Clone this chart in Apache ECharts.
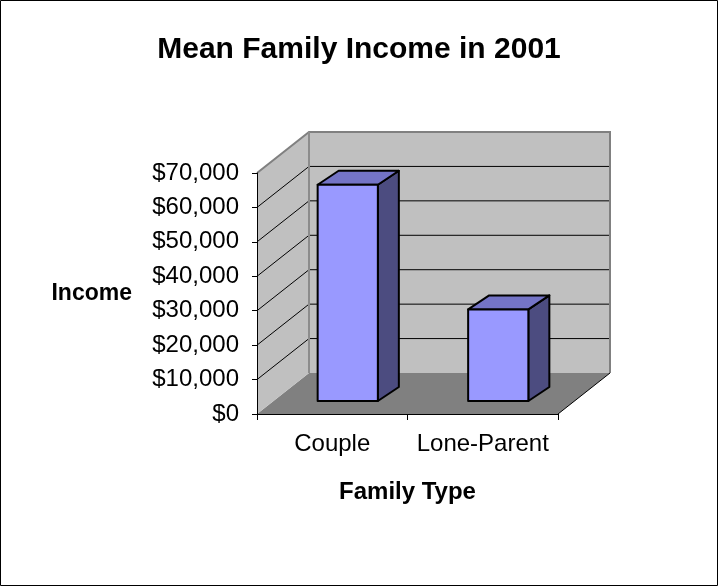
<!DOCTYPE html>
<html>
<head>
<meta charset="utf-8">
<title>Mean Family Income in 2001</title>
<script src="https://cdn.jsdelivr.net/npm/echarts@6/dist/echarts.min.js"></script>
<style>
  html, body { margin: 0; padding: 0; background: #fff; }
  #chart { width: 718px; height: 586px; }
</style>
</head>
<body>
<div id="chart"></div>
<script>
// Family types along the horizontal axis
const categories = ['Couple', 'Lone-Parent'];
// Mean family income per type (dollars)
const incomes = [62800, 26600];
// Income axis tick values
const incomeTicks = [0, 10000, 20000, 30000, 40000, 50000, 60000, 70000];

// Pseudo-3D projection offsets (pixels)
const WALL_DEPTH = [52, -41];   // floor / walls depth vector
const BAR_FRONT = [15.5, -13];  // bar front face offset into the box
const BAR_DEPTH = [21, -14];    // bar thickness vector
const BAR_RATIO = 0.4;          // bar width relative to category band

const FONT = '"Liberation Sans", Arial, sans-serif';

const chart = echarts.init(document.getElementById('chart'), null, { renderer: 'canvas' });

function money(v) {
  return '$' + Math.round(v).toLocaleString('en-US');
}

// Walls, floor and wall gridlines, positioned through the axes
function renderFrame(params, api) {
  const band = api.size([1, 0])[0];
  const x0 = api.coord([0, 0])[0] - band / 2;
  const x1 = api.coord([categories.length - 1, 0])[0] + band / 2;
  const yOf = v => api.coord([0, v])[1];
  const y0 = yOf(incomeTicks[0]);
  const yT = yOf(incomeTicks[incomeTicks.length - 1]);
  const dx = WALL_DEPTH[0], dy = WALL_DEPTH[1];
  const children = [];

  // floor
  children.push({
    type: 'polygon',
    shape: { points: [[x0, y0], [x1, y0], [x1 + dx, y0 + dy], [x0 + dx, y0 + dy]] },
    style: { fill: '#808080', stroke: null }
  });
  // side wall
  children.push({
    type: 'polygon',
    shape: { points: [[x0, y0], [x0 + dx, y0 + dy], [x0 + dx, yT + dy], [x0, yT]] },
    style: { fill: '#C0C0C0', stroke: null }
  });
  // back wall
  children.push({
    type: 'rect',
    shape: { x: x0 + dx, y: yT + dy, width: x1 - x0, height: y0 - yT },
    style: { fill: '#C0C0C0', stroke: null }
  });
  // gridlines on side and back walls
  for (let i = 1; i < incomeTicks.length - 1; i++) {
    const y = yOf(incomeTicks[i]);
    children.push({
      type: 'polyline',
      shape: { points: [[x0, y], [x0 + dx, y + dy], [x1 + dx, y + dy]] },
      style: { stroke: '#000', lineWidth: 1, fill: null }
    });
  }
  // wall edges
  children.push({
    type: 'polyline',
    shape: { points: [[x0, yT], [x0 + dx, yT + dy], [x1 + dx, yT + dy], [x1 + dx, y0 + dy]] },
    style: { stroke: '#808080', lineWidth: 2, fill: null }
  });
  children.push({
    type: 'line',
    shape: { x1: x0 + dx, y1: y0 + dy, x2: x0 + dx, y2: yT + dy },
    style: { stroke: '#8C8C8C', lineWidth: 2 }
  });
  // floor right edge
  children.push({
    type: 'line',
    shape: { x1: x1, y1: y0, x2: x1 + dx, y2: y0 + dy },
    style: { stroke: '#000', lineWidth: 1 }
  });
  return { type: 'group', children: children };
}

// 3D column: front face, top face and right side
function renderBar(params, api) {
  const idx = api.value(0);
  const val = api.value(1);
  const band = api.size([1, 0])[0];
  const w = band * BAR_RATIO;
  const cx = api.coord([idx, 0])[0] + BAR_FRONT[0];
  const yb = api.coord([idx, 0])[1] + BAR_FRONT[1];
  const yt = api.coord([idx, val])[1] + BAR_FRONT[1];
  const l = cx - w / 2, r = cx + w / 2;
  const bx = BAR_DEPTH[0], by = BAR_DEPTH[1];
  const edge = { stroke: '#000', lineWidth: 2, lineJoin: 'round' };
  return {
    type: 'group',
    children: [
      {
        type: 'polygon',
        shape: { points: [[r, yt], [r + bx, yt + by], [r + bx, yb + by], [r, yb]] },
        style: Object.assign({ fill: '#4C4C80' }, edge)
      },
      {
        type: 'polygon',
        shape: { points: [[l, yt], [r, yt], [r + bx, yt + by], [l + bx, yt + by]] },
        style: Object.assign({ fill: '#7474C6' }, edge)
      },
      {
        type: 'rect',
        shape: { x: l, y: yt, width: w, height: yb - yt },
        style: Object.assign({ fill: '#9999FF' }, edge)
      }
    ]
  };
}

const option = {
  backgroundColor: '#fff',
  animation: false,
  title: {
    text: 'Mean Family Income in 2001',
    left: 'center',
    top: 30,
    textStyle: { fontFamily: FONT, fontWeight: 'bold', fontSize: 30, color: '#000' }
  },
  graphic: [{
    type: 'rect',
    shape: { x: 0.5, y: 0.5, width: 717, height: 585 },
    style: { fill: null, stroke: '#000', lineWidth: 1 },
    z: 100
  }],
  grid: { left: 257, right: 160, top: 173, bottom: 172 },
  xAxis: {
    type: 'category',
    data: categories,
    z: 10,
    boundaryGap: true,
    name: 'Family Type',
    nameLocation: 'middle',
    nameGap: 66,
    nameTextStyle: { fontFamily: FONT, fontWeight: 'bold', fontSize: 24, color: '#000' },
    axisLine: { show: true, lineStyle: { color: '#000', width: 1 } },
    axisTick: { show: true, length: 6, lineStyle: { color: '#000' } },
    axisLabel: { interval: 0, hideOverlap: false, margin: 18, fontFamily: FONT, fontSize: 24, color: '#000' },
    splitLine: { show: false }
  },
  yAxis: {
    type: 'value',
    min: incomeTicks[0],
    max: incomeTicks[incomeTicks.length - 1],
    interval: incomeTicks[1] - incomeTicks[0],
    z: 10,
    name: 'Income',
    nameLocation: 'middle',
    nameRotate: 0,
    nameGap: 125,
    nameTextStyle: { fontFamily: FONT, fontWeight: 'bold', fontSize: 23, color: '#000', align: 'right', padding: [8, 0, 0, 0] },
    axisLine: { show: true, lineStyle: { color: '#000', width: 1 } },
    axisTick: { show: true, length: 5, lineStyle: { color: '#000' } },
    axisLabel: { margin: 18, fontFamily: FONT, fontSize: 24, color: '#000', formatter: money },
    splitLine: { show: false }
  },
  series: [
    {
      type: 'custom',
      name: 'frame',
      silent: true,
      z: 1,
      renderItem: renderFrame,
      data: [[0, 0]]
    },
    {
      type: 'custom',
      name: 'Income',
      z: 3,
      renderItem: renderBar,
      encode: { x: 0, y: 1 },
      data: categories.map((c, i) => [i, incomes[i]])
    }
  ]
};

chart.setOption(option);
</script>
</body>
</html>
